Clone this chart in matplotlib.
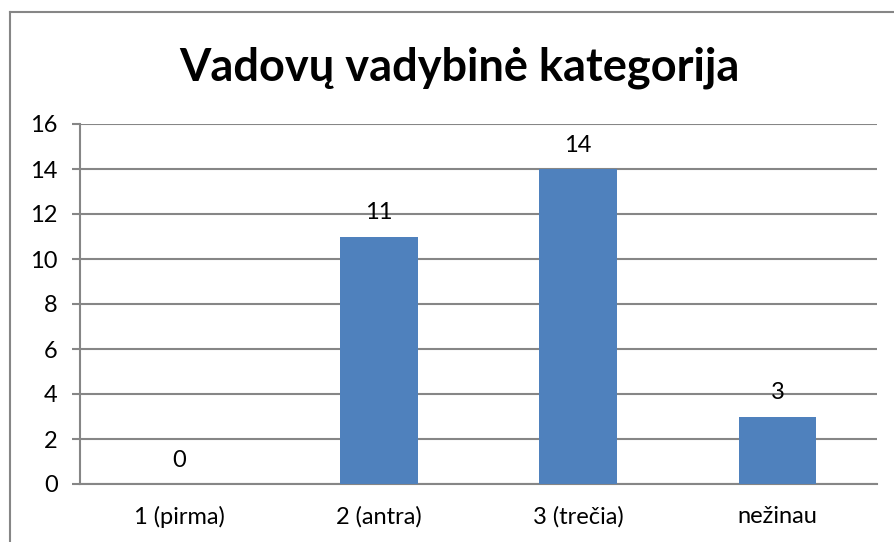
import matplotlib.pyplot as plt
from matplotlib.lines import Line2D

# duomenys
categories = ['1 (pirma)', '2 (antra)', '3 (trečia)', 'nežinau']
values = [0, 11, 14, 3]
title = 'Vadovų vadybinė kategorija'

plt.rcParams['font.family'] = ['Lato', 'DejaVu Sans']

fig = plt.figure(figsize=(8.95, 5.42), dpi=100)
ax = fig.add_axes([80 / 895, 1 - 484 / 542, 797 / 895, 360 / 542])

x = range(len(categories))
bars = ax.bar(x, values, width=0.39, color='#4F81BD', zorder=3)

# reikšmės virš stulpelių
for xi, v in zip(x, values):
    ax.annotate(str(v), (xi, v), xytext=(0, 17), textcoords='offset points',
                ha='center', va='center', fontsize=17, zorder=4)

ax.set_xlim(-0.5, len(categories) - 0.5)
ax.set_ylim(0, 16)
ax.set_yticks(range(0, 17, 2))
ax.set_xticks(list(x))
ax.set_xticklabels(categories)
ax.tick_params(axis='y', length=6, width=1.5, color='#868686', labelsize=17, pad=10)
ax.tick_params(axis='x', length=0, labelsize=17, pad=16)
ax.grid(axis='y', color='#868686', linewidth=1.5, zorder=1)

for s in ['top', 'right']:
    ax.spines[s].set_visible(False)
for s in ['left', 'bottom']:
    ax.spines[s].set_color('#868686')
    ax.spines[s].set_linewidth(1.5)

fig.text(459 / 895, 1 - 68 / 542, title, ha='center', va='center',
         fontsize=32.5, fontweight='bold')

# diagramos rėmelis (kairė ir viršus)
fig.add_artist(Line2D([10.5 / 895, 10.5 / 895], [0, 1 - 12 / 542],
                      color='#868686', linewidth=1.5, transform=fig.transFigure))
fig.add_artist(Line2D([10.5 / 895, 1], [1 - 12 / 542, 1 - 12 / 542],
                      color='#868686', linewidth=1.5, transform=fig.transFigure))

fig.savefig('out.png', dpi=100)
